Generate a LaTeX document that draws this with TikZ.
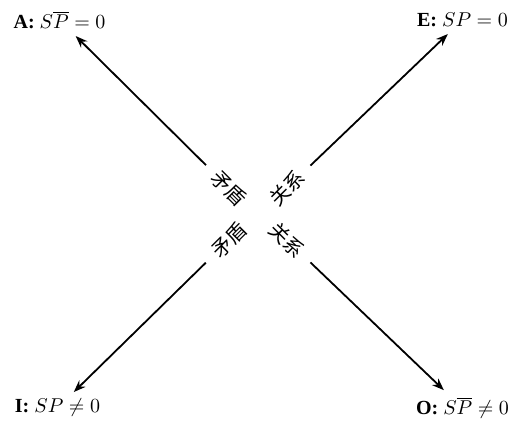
\documentclass[tikz,border=0pt]{standalone}
\usepackage{fontspec}
\setmainfont{Liberation Serif}
\newfontfamily\cjk{Noto Sans CJK SC}
\usetikzlibrary{arrows.meta}

\begin{document}
\begin{tikzpicture}[x=0.5pt,y=0.5pt,
    tag/.style={font=\cjk,inner xsep=6pt,inner ysep=1pt},
    arr/.style={-{Stealth[length=6pt,width=4.5pt]},line width=0.9pt}]
  \useasboundingbox (0,0) rectangle (513,421);

  % corner statements
  \node (A) at (59.5,401) {\textbf{A:} $S\overline{P}=0$};
  \node (E) at (462.5,401) {\textbf{E:} $SP=0$};
  \node (I) at (57.5,13) {\textbf{I:} $SP\neq0$};
  \node (O) at (462.5,13) {\textbf{O:} $S\overline{P}\neq0$};

  % relation tags round the middle
  \node[tag,rotate=-45] (tA) at (229,233) {矛盾};
  \node[tag,rotate=45]  (tE) at (287,233) {关系};
  \node[tag,rotate=45]  (tI) at (229,181) {矛盾};
  \node[tag,rotate=-45] (tO) at (287,181) {关系};

  \foreach \tag/\corner in {tA/A,tE/E,tI/I,tO/O}
    \draw[arr] (\tag) -- (\corner);
\end{tikzpicture}
\end{document}
